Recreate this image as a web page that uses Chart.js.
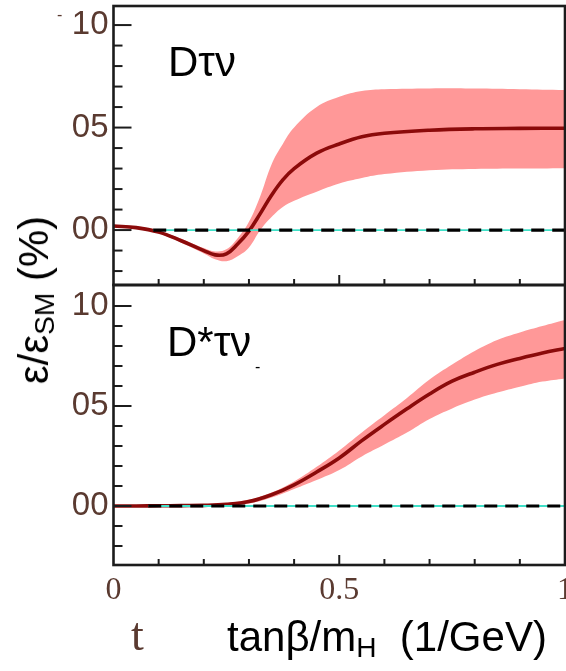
<!DOCTYPE html>
<html><head><meta charset="utf-8">
<script src="https://cdn.jsdelivr.net/npm/chart.js@4.4.1/dist/chart.umd.min.js"></script>
<style>
html,body{margin:0;padding:0;background:#fff;width:566px;height:671px;overflow:hidden;position:relative;font-family:"Liberation Sans",Arial,sans-serif;}
canvas{position:absolute;left:0;}
#cTop{top:0;}
#cBot{top:280px;}
.lbl{position:absolute;white-space:nowrap;line-height:1;color:#000;}
.lbl sub{font-size:0.67em;vertical-align:-0.2em;line-height:0;}
</style></head><body>
<canvas id="cTop" width="566" height="290"></canvas>
<canvas id="cBot" width="566" height="391"></canvas>
<div class="lbl" style="left:168px;top:41px;font-size:42px;">Dτν</div>
<div class="lbl" style="left:167px;top:321px;font-size:42px;">D*τν</div>
<div class="lbl" style="left:255px;top:359px;font-size:16px;">-</div>
<div class="lbl" style="left:57px;top:7px;font-size:16px;color:#5a3a30;">-</div>
<div class="lbl" style="left:34px;top:300px;font-size:42px;transform:translate(-50%,-50%) rotate(-90deg);">ε/ε<sub>SM</sub> (%)</div>
<div class="lbl" style="left:227px;top:616px;font-size:42px;">tanβ/m<sub>H</sub>&nbsp; (1/GeV)</div>
<div class="lbl" style="left:131px;top:612px;font-size:46px;font-family:'Liberation Serif',serif;color:#5a3a30;">t</div>
<script>
// ---- data ----
const xTop = [0, 0.05, 0.1, 0.15, 0.2, 0.225, 0.25, 0.275, 0.3, 0.325, 0.35, 0.375, 0.4, 0.45, 0.5, 0.55, 0.6, 0.7, 0.8, 0.9, 1.0];
const topCentral = [0.02, 0.012, -0.01, -0.052, -0.1, -0.121, -0.116, -0.068, -0.005, 0.08, 0.17, 0.245, 0.3, 0.375, 0.42, 0.455, 0.472, 0.487, 0.494, 0.496, 0.497];
const topUpper   = [0.026, 0.018, -0.003, -0.042, -0.088, -0.104, -0.094, -0.04, 0.04, 0.165, 0.32, 0.42, 0.5, 0.6, 0.65, 0.678, 0.687, 0.691, 0.69, 0.687, 0.683];
const topLower   = [0.014, 0.006, -0.017, -0.062, -0.114, -0.142, -0.152, -0.128, -0.085, 0.0, 0.064, 0.113, 0.143, 0.187, 0.227, 0.254, 0.273, 0.292, 0.298, 0.3, 0.302];

const xBot = [0, 0.05, 0.1, 0.15, 0.2, 0.25, 0.3, 0.35, 0.4, 0.45, 0.5, 0.55, 0.6, 0.65, 0.7, 0.75, 0.8, 0.85, 0.9, 0.95, 1.0];
const botCentral = [0, 0, 0.001, 0.002, 0.003, 0.008, 0.022, 0.056, 0.106, 0.17, 0.24, 0.327, 0.408, 0.486, 0.56, 0.624, 0.669, 0.708, 0.738, 0.765, 0.788];
const botUpper   = [0.005, 0.005, 0.006, 0.007, 0.009, 0.015, 0.032, 0.068, 0.123, 0.196, 0.278, 0.368, 0.454, 0.54, 0.632, 0.707, 0.775, 0.83, 0.868, 0.9, 0.93];
const botLower   = [-0.005, -0.005, -0.004, -0.003, -0.003, 0.001, 0.012, 0.042, 0.085, 0.13, 0.18, 0.248, 0.307, 0.367, 0.435, 0.488, 0.532, 0.567, 0.596, 0.622, 0.638];

const refXTop = [0.088, 1];   // dashed reference line (y = 0) extent, top panel
const refXBot = [0.077, 1];   // bottom panel
const refY = [0, 0];

const yTickValues = [0, 0.5, 1.0];
const yTickLabels = ['00', '05', '10'];
const yMinorTicks = [-0.2, -0.1, 0, 0.1, 0.2, 0.3, 0.4, 0.5, 0.6, 0.7, 0.8, 0.9, 1.0];
const xTickValues = [0, 0.5, 1.0];
const xTickLabels = ['0', '0.5', '1'];
const xMinorTicks = [0.1, 0.2, 0.3, 0.4, 0.5, 0.6, 0.7, 0.8, 0.9];

// ---- styles ----
const BAND = '#ff9898';
const LINE = '#8b0a0a';
const TICKCOL = '#5a3a30';

const pts = (xs, ys) => xs.map((x, i) => ({x: x, y: ys[i]}));
const isMajor = (arr, v) => arr.some(m => Math.abs(m - v) < 1e-9);

const framePlugin = {
  id: 'frame',
  afterDatasetsDraw(chart) {
    const {ctx, chartArea: a} = chart;
    const x = chart.scales.x, y = chart.scales.y;
    ctx.save();
    ctx.strokeStyle = '#1c1c1c';
    ctx.lineWidth = 2;
    for (const v of yMinorTicks) {
      const py = y.getPixelForValue(v);
      if (py < a.top + 1 || py > a.bottom - 1) continue;
      const len = isMajor(yTickValues, v) ? 18 : 9;
      ctx.beginPath(); ctx.moveTo(a.left, py); ctx.lineTo(a.left + len, py); ctx.stroke();
    }
    for (const v of xMinorTicks) {
      const px = x.getPixelForValue(v);
      const len = isMajor(xTickValues, v) ? 10 : 6;
      ctx.beginPath(); ctx.moveTo(px, a.bottom); ctx.lineTo(px, a.bottom - len); ctx.stroke();
    }
    ctx.lineWidth = 2.6;
    ctx.strokeRect(a.left, a.top, a.right - a.left, a.bottom - a.top);
    ctx.restore();
  }
};

function datasets(xs, c, u, l, refX) {
  return [
    {data: pts(xs, u), borderWidth: 0, pointRadius: 0, fill: '+1', backgroundColor: BAND, tension: 0.4, order: 4},
    {data: pts(xs, l), borderWidth: 0, pointRadius: 0, fill: false, tension: 0.4, order: 3},
    {data: pts(xs, c), borderColor: LINE, borderWidth: 3.6, pointRadius: 0, fill: false, tension: 0.4, order: 2},
    {data: pts(refX, refY), borderColor: '#40e0c8', borderWidth: 1.8, pointRadius: 0, fill: false, order: 1},
    {data: pts(refX, refY), borderColor: '#000', borderWidth: 3.2, borderDash: [13, 8], pointRadius: 0, fill: false, order: 0}
  ];
}

function yScale(min, max) {
  return {
    type: 'linear', position: 'left', min: min, max: max,
    afterBuildTicks: s => { s.ticks = yTickValues.map(v => ({value: v})); },
    afterFit: s => { s.width = 113.5; s.paddingTop = 0; s.paddingBottom = 0; },
    ticks: {
      callback: v => { const i = yTickValues.findIndex(m => Math.abs(m - v) < 1e-9); return i >= 0 ? yTickLabels[i] : ''; },
      font: {family: 'Liberation Sans', size: 33}, color: TICKCOL, padding: 5
    },
    grid: {display: false, drawTicks: false},
    border: {display: false}
  };
}

const common = {
  responsive: false, animation: false, devicePixelRatio: 1,
  plugins: {legend: {display: false}, tooltip: {enabled: false}}
};

new Chart(document.getElementById('cTop'), {
  type: 'line',
  data: {datasets: datasets(xTop, topCentral, topUpper, topLower, refXTop)},
  options: Object.assign({}, common, {
    layout: {padding: {top: 6, right: 1, bottom: 0, left: 0}},
    scales: {
      x: {
        type: 'linear', min: 0, max: 1,
        afterFit: s => { s.height = 5; s.paddingLeft = 0; s.paddingRight = 0; },
        ticks: {display: false},
        grid: {display: false, drawTicks: false},
        border: {display: false}
      },
      y: yScale(-0.268, 1.093)
    }
  }),
  plugins: [framePlugin]
});

new Chart(document.getElementById('cBot'), {
  type: 'line',
  data: {datasets: datasets(xBot, botCentral, botUpper, botLower, refXBot)},
  options: Object.assign({}, common, {
    layout: {padding: {top: 5, right: 1, bottom: 0, left: 0}},
    scales: {
      x: {
        type: 'linear', min: 0, max: 1,
        afterBuildTicks: s => { s.ticks = xTickValues.map(v => ({value: v})); },
        afterFit: s => { s.height = 106; s.paddingLeft = 0; s.paddingRight = 0; },
        ticks: {
          callback: v => { const i = xTickValues.findIndex(m => Math.abs(m - v) < 1e-9); return i >= 0 ? xTickLabels[i] : ''; },
          font: {family: 'Liberation Serif', size: 32}, color: TICKCOL, padding: 6,
          maxRotation: 0, autoSkip: false
        },
        grid: {display: false, drawTicks: false},
        border: {display: false}
      },
      y: yScale(-0.295, 1.105)
    }
  }),
  plugins: [framePlugin]
});
</script>
</body></html>
